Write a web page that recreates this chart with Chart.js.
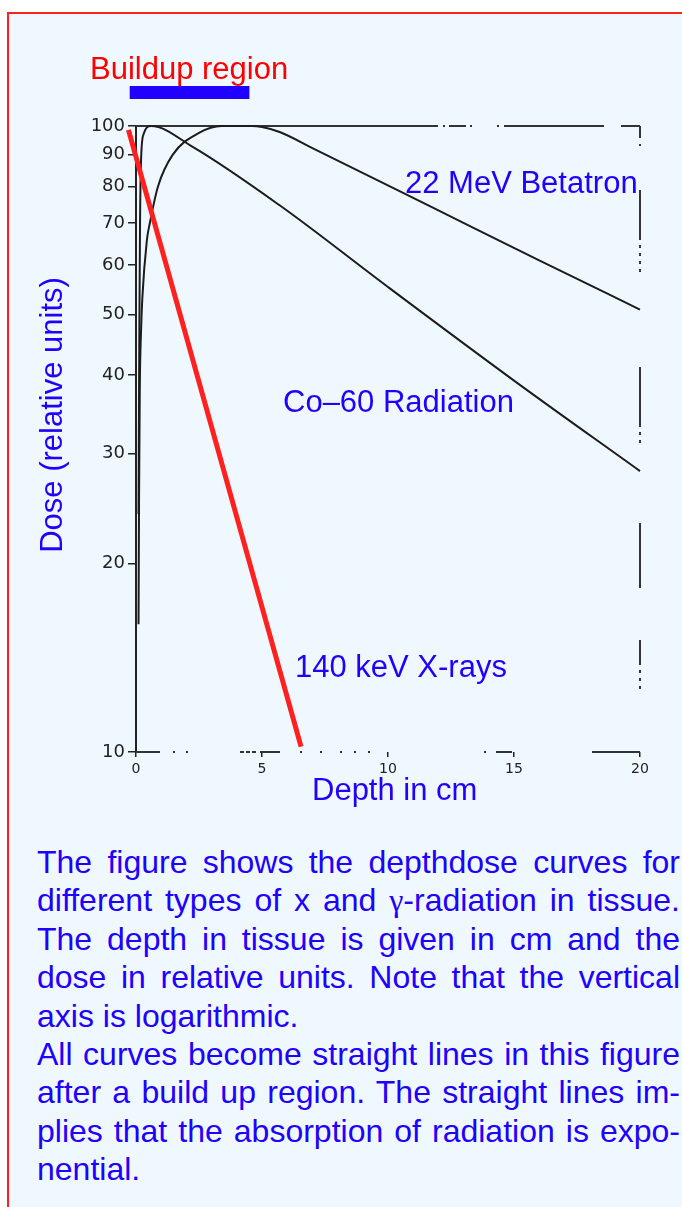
<!DOCTYPE html>
<html>
<head>
<meta charset="utf-8">
<script src="https://cdn.jsdelivr.net/npm/chart.js@4.4.0/dist/chart.umd.min.js"></script>
<style>
  body { margin: 0; background: #fff; width: 682px; height: 1207px; overflow: hidden; position: relative;
         font-family: "Liberation Sans", Arial, sans-serif; }
  #box { position: absolute; left: 7px; top: 12px; width: 720px; height: 1240px;
         border-left: 2px solid #ff2020; border-top: 2px solid #ff2020; background: #f0f8ff; }
  #chartWrap { position: absolute; left: 0; top: 0; width: 682px; height: 830px; }
  #note { position: absolute; left: 37px; top: 843px; width: 643px; color: #2000ff;
          font-size: 32px; line-height: 38.4px; white-space: nowrap; }
  #note .j { text-align: justify; text-align-last: justify; }
  #note .g { font-family: "Liberation Serif", serif; }
</style>
</head>
<body>
<div id="box"></div>
<div id="chartWrap"><canvas id="myChart" width="682" height="830"></canvas></div>
<div id="note">
  <div class="j">The figure shows the depthdose curves for</div>
  <div class="j">different types of x and <span class="g">γ</span>-radiation in tissue.</div>
  <div class="j">The depth in tissue is given in cm and the</div>
  <div class="j">dose in relative units. Note that the vertical</div>
  <div>axis is logarithmic.</div>
  <div class="j">All curves become straight lines in this figure</div>
  <div class="j">after a build up region. The straight lines im-</div>
  <div class="j">plies that the absorption of radiation is expo-</div>
  <div>nential.</div>
</div>
<script>
// depth in cm, dose in relative units
const betatronDepth = [0.1, 0.12, 0.15, 0.2, 0.25, 0.43, 0.55, 0.87, 1.46, 2.5, 3.4, 4.6, 5.0, 5.7, 7, 12, 16, 20];
const betatronDose  = [16, 25, 38, 47, 53, 65.6, 70, 80, 90, 97.5, 100, 100, 99.6, 97.8, 92.2, 73.3, 61, 50.9];

const cobaltDepth = [0.1, 0.13, 0.16, 0.2, 0.3, 0.6, 2.25, 5.7, 10, 15, 20];
const cobaltDose  = [24, 45, 70, 88, 97, 100, 92.6, 74.7, 55.3, 39.2, 28.1];

const xrayDepth = [-0.3, 6.55];
const xrayDose  = [98.6, 10.2];

const buildupRegion = [-0.25, 4.5];

const doseTicks  = [10, 20, 30, 40, 50, 60, 70, 80, 90, 100];
const depthTicks = [0, 5, 10, 15, 20];

const blue = '#2000ff';
const ink = '#1c1c1c';
const sans = '"Liberation Sans", Arial, sans-serif';

function pts(xs, ys) {
  return xs.map((x, i) => ({ x: x, y: ys[i] }));
}

// the old scan has a broken, dashed frame; chart.js borders can't dash, so stroke it here
const frame = {
  id: 'frame',
  beforeDatasetsDraw(chart) {
    const c = chart.ctx, a = chart.chartArea;
    const seg = (x1, y1, x2, y2, dash) => {
      c.setLineDash(dash);
      c.beginPath(); c.moveTo(x1, y1); c.lineTo(x2, y2); c.stroke();
    };
    c.save();
    c.strokeStyle = '#333';
    c.lineWidth = 2;
    seg(a.left, a.top, a.right, a.top, [302, 5, 2, 4, 17, 4, 2, 25, 2, 5, 100, 17, 30]);
    seg(a.right, a.top, a.right, a.bottom,
        [12, 6, 2, 44, 50, 5, 3, 5, 3, 5, 3, 5, 3, 95, 60, 5, 3, 5, 3, 80, 65, 52, 25, 5, 3, 5, 3, 5, 3, 80]);
    seg(a.left, a.bottom, a.right, a.bottom,
        [24, 13, 2, 11, 2, 52, 4, 2, 4, 2, 4, 4, 20, 20, 2, 18, 2, 18, 2, 12, 2, 12, 2, 114, 2, 10, 16, 80, 50]);
    c.restore();
  }
};

// texts laid over the scanned figure, plus the blue buildup bar
const overlay = {
  id: 'overlay',
  afterDraw(chart) {
    const c = chart.ctx;
    const xs = chart.scales.x;
    c.save();
    const b0 = xs.getPixelForValue(buildupRegion[0]);
    const b1 = xs.getPixelForValue(buildupRegion[1]);
    c.fillStyle = blue;
    c.fillRect(b0, 86, b1 - b0, 13);

    c.font = '31px ' + sans;
    c.textBaseline = 'alphabetic';
    c.textAlign = 'left';
    c.fillStyle = '#ff0000';
    c.fillText('Buildup region', 90, 79);
    c.fillStyle = blue;
    c.fillText('22 MeV Betatron', 405, 193);
    c.fillText('Co\u201360 Radiation', 283, 412);
    c.fillText('140 keV X-rays', 295, 677);
    c.fillText('Depth in cm', 312, 800);

    c.translate(62, 415);
    c.rotate(-Math.PI / 2);
    c.textAlign = 'center';
    c.fillText('Dose (relative units)', 0, 0);
    c.restore();
  }
};

const ctx = document.getElementById('myChart').getContext('2d');
new Chart(ctx, {
  type: 'line',
  data: {
    datasets: [
      { label: '140 keV X-rays', data: pts(xrayDepth, xrayDose), borderColor: '#ff2020', borderWidth: 5, pointRadius: 0, clip: false },
      { label: '22 MeV Betatron', data: pts(betatronDepth, betatronDose), borderColor: ink, borderWidth: 2,
        pointRadius: 0, cubicInterpolationMode: 'monotone', clip: false },
      { label: 'Co-60 Radiation', data: pts(cobaltDepth, cobaltDose), borderColor: ink, borderWidth: 2,
        pointRadius: 0, cubicInterpolationMode: 'monotone', clip: false }
    ]
  },
  options: {
    responsive: false,
    animation: false,
    layout: { padding: { left: 0, top: 126, right: 42, bottom: 0 } },
    plugins: { legend: { display: false }, tooltip: { enabled: false } },
    scales: {
      x: {
        type: 'linear', position: 'bottom', min: 0, max: 20,
        afterBuildTicks: s => { s.ticks = depthTicks.map(v => ({ value: v })); },
        afterFit: s => { s.height = 78; },
        ticks: { color: '#222', font: { family: 'DejaVu Sans', size: 14 }, padding: 4, maxRotation: 0 },
        grid: { drawOnChartArea: false, tickLength: 5, color: '#222', lineWidth: 1.5 },
        border: { display: false }
      },
      y: {
        type: 'logarithmic', position: 'left', min: 10, max: 100,
        afterBuildTicks: s => { s.ticks = doseTicks.map(v => ({ value: v })); },
        afterFit: s => { s.width = 136; },
        ticks: { color: '#222', font: { family: 'DejaVu Sans', size: 18 }, padding: 3,
                 callback: v => String(v) },
        grid: { drawOnChartArea: false, tickLength: 8, color: '#222', lineWidth: 1.5 },
        border: { color: '#222', width: 2 }
      }
    }
  },
  plugins: [frame, overlay]
});
</script>
</body>
</html>
